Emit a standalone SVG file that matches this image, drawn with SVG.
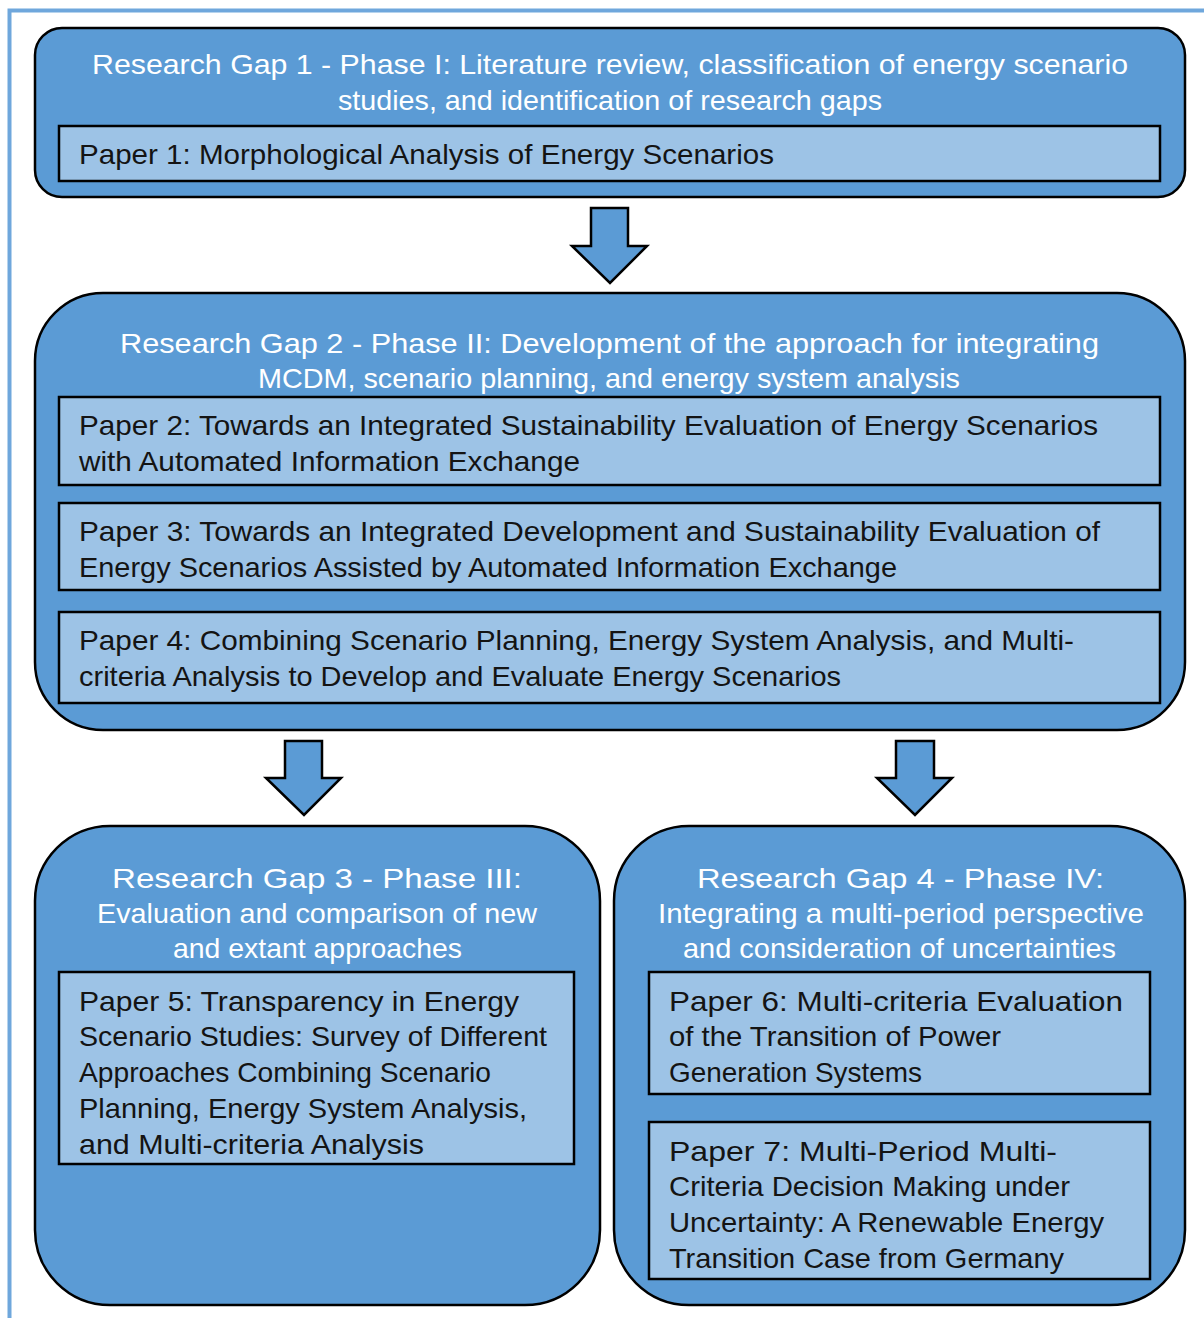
<svg xmlns="http://www.w3.org/2000/svg" width="1204" height="1318" viewBox="0 0 1204 1318">
  <style>
    .frame { fill: none; stroke: #6fa7dc; stroke-width: 4; }
    .gap { fill: #5b9bd5; stroke: #000; stroke-width: 2.5; }
    .paper { fill: #9dc3e6; stroke: #000; stroke-width: 2.5; }
    .arrow { fill: #5b9bd5; stroke: #000; stroke-width: 2.5; stroke-linejoin: miter; }
    .hdr { font-family: "Liberation Sans", Arial, sans-serif; font-size: 28px; fill: #ffffff; }
    .ptxt { font-family: "Liberation Sans", Arial, sans-serif; font-size: 28px; fill: #141414; }
  </style>
  <rect width="1204" height="1318" fill="#ffffff"/>
  <path class="frame" d="M9.5 1318 V10.5 H1204"/>

  <g id="connectors">
    <polygon class="arrow" points="591,208 628,208 628,246 647,246 610,283 572,246 591,246"/>
    <polygon class="arrow" points="285,741 322,741 322,778 341,778 304,815 266,778 285,778"/>
    <polygon class="arrow" points="896,741 934,741 934,778 952,778 915,815 877,778 896,778"/>
  </g>

  <g id="gap1">
    <rect class="gap" x="35" y="28" width="1150" height="169" rx="27" ry="27"/>
    <text class="hdr" x="92" y="74" textLength="1036" lengthAdjust="spacingAndGlyphs">Research Gap 1 - Phase I: Literature review, classification of energy scenario</text>
    <text class="hdr" x="338" y="110" textLength="544" lengthAdjust="spacingAndGlyphs">studies, and identification of research gaps</text>
    <g id="paper1">
      <rect class="paper" x="59" y="126" width="1101" height="55"/>
      <text class="ptxt" x="79" y="164" textLength="695" lengthAdjust="spacingAndGlyphs">Paper 1: Morphological Analysis of Energy Scenarios</text>
    </g>
  </g>

  <g id="gap2">
    <rect class="gap" x="35" y="293" width="1150" height="437" rx="68" ry="68"/>
    <text class="hdr" x="120" y="353" textLength="979" lengthAdjust="spacingAndGlyphs">Research Gap 2 - Phase II: Development of the approach for integrating</text>
    <text class="hdr" x="258" y="388" textLength="702" lengthAdjust="spacingAndGlyphs">MCDM, scenario planning, and energy system analysis</text>
    <g id="paper2">
      <rect class="paper" x="59" y="397" width="1101" height="88"/>
      <text class="ptxt" x="79" y="435" textLength="1019" lengthAdjust="spacingAndGlyphs">Paper 2: Towards an Integrated Sustainability Evaluation of Energy Scenarios</text>
      <text class="ptxt" x="79" y="471" textLength="501" lengthAdjust="spacingAndGlyphs">with Automated Information Exchange</text>
    </g>
    <g id="paper3">
      <rect class="paper" x="59" y="503" width="1101" height="87"/>
      <text class="ptxt" x="79" y="541" textLength="1021" lengthAdjust="spacingAndGlyphs">Paper 3: Towards an Integrated Development and Sustainability Evaluation of</text>
      <text class="ptxt" x="79" y="577" textLength="818" lengthAdjust="spacingAndGlyphs">Energy Scenarios Assisted by Automated Information Exchange</text>
    </g>
    <g id="paper4">
      <rect class="paper" x="59" y="612" width="1101" height="91"/>
      <text class="ptxt" x="79" y="650" textLength="995" lengthAdjust="spacingAndGlyphs">Paper 4: Combining Scenario Planning, Energy System Analysis, and Multi-</text>
      <text class="ptxt" x="79" y="686" textLength="762" lengthAdjust="spacingAndGlyphs">criteria Analysis to Develop and Evaluate Energy Scenarios</text>
    </g>
  </g>

  <g id="gap3">
    <rect class="gap" x="35" y="826" width="565" height="479" rx="75" ry="75"/>
    <text class="hdr" x="112" y="888" textLength="410" lengthAdjust="spacingAndGlyphs">Research Gap 3 - Phase III:</text>
    <text class="hdr" x="97" y="923" textLength="440" lengthAdjust="spacingAndGlyphs">Evaluation and comparison of new</text>
    <text class="hdr" x="173" y="958" textLength="289" lengthAdjust="spacingAndGlyphs">and extant approaches</text>
    <g id="paper5">
      <rect class="paper" x="59" y="972" width="515" height="192"/>
      <text class="ptxt" x="79" y="1011" textLength="440" lengthAdjust="spacingAndGlyphs">Paper 5: Transparency in Energy</text>
      <text class="ptxt" x="79" y="1046" textLength="468" lengthAdjust="spacingAndGlyphs">Scenario Studies: Survey of Different</text>
      <text class="ptxt" x="79" y="1082" textLength="412" lengthAdjust="spacingAndGlyphs">Approaches Combining Scenario</text>
      <text class="ptxt" x="79" y="1118" textLength="448" lengthAdjust="spacingAndGlyphs">Planning, Energy System Analysis,</text>
      <text class="ptxt" x="79" y="1154" textLength="345" lengthAdjust="spacingAndGlyphs">and Multi-criteria Analysis</text>
    </g>
  </g>

  <g id="gap4">
    <rect class="gap" x="614" y="826" width="571" height="479" rx="75" ry="75"/>
    <text class="hdr" x="697" y="888" textLength="407" lengthAdjust="spacingAndGlyphs">Research Gap 4 - Phase IV:</text>
    <text class="hdr" x="658" y="923" textLength="486" lengthAdjust="spacingAndGlyphs">Integrating a multi-period perspective</text>
    <text class="hdr" x="683" y="958" textLength="433" lengthAdjust="spacingAndGlyphs">and consideration of uncertainties</text>
    <g id="paper6">
      <rect class="paper" x="649" y="972" width="501" height="122"/>
      <text class="ptxt" x="669" y="1011" textLength="454" lengthAdjust="spacingAndGlyphs">Paper 6: Multi-criteria Evaluation</text>
      <text class="ptxt" x="669" y="1046" textLength="332" lengthAdjust="spacingAndGlyphs">of the Transition of Power</text>
      <text class="ptxt" x="669" y="1082" textLength="253" lengthAdjust="spacingAndGlyphs">Generation Systems</text>
    </g>
    <g id="paper7">
      <rect class="paper" x="649" y="1122" width="501" height="157"/>
      <text class="ptxt" x="669" y="1161" textLength="388" lengthAdjust="spacingAndGlyphs">Paper 7: Multi-Period Multi-</text>
      <text class="ptxt" x="669" y="1196" textLength="401" lengthAdjust="spacingAndGlyphs">Criteria Decision Making under</text>
      <text class="ptxt" x="669" y="1232" textLength="435" lengthAdjust="spacingAndGlyphs">Uncertainty: A Renewable Energy</text>
      <text class="ptxt" x="669" y="1268" textLength="395" lengthAdjust="spacingAndGlyphs">Transition Case from Germany</text>
    </g>
  </g>
</svg>
